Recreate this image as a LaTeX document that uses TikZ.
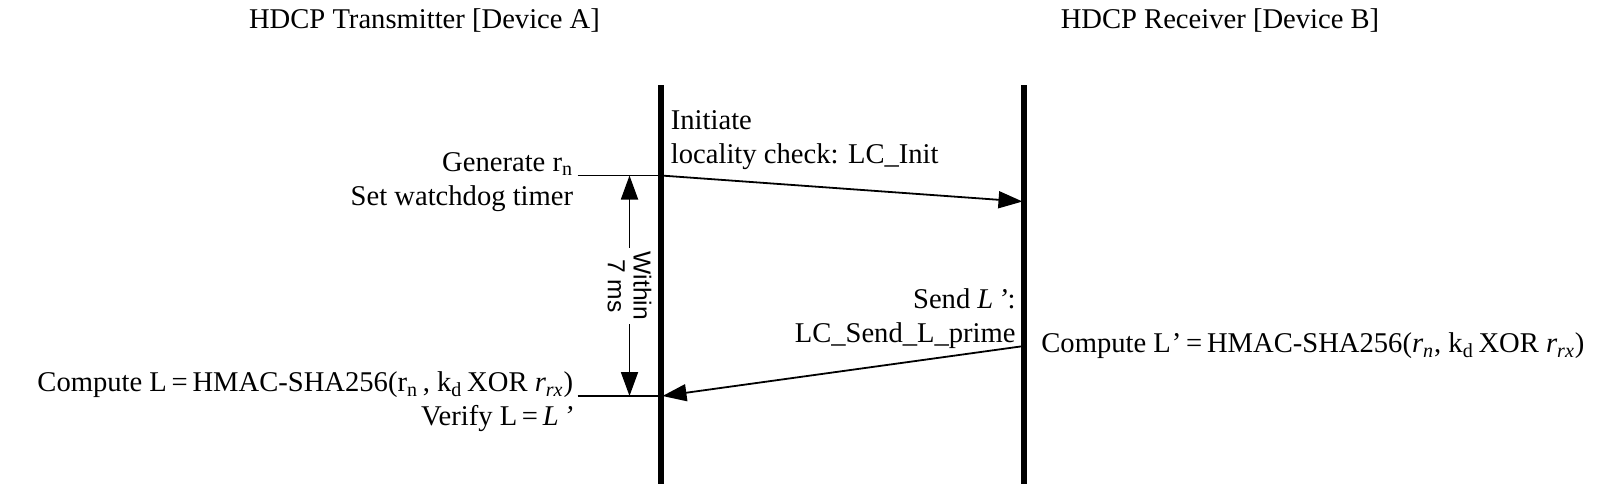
\documentclass[tikz,border=0pt]{standalone}
\usepackage{fontspec}
\setmainfont{Liberation Serif}
\setsansfont{Liberation Sans}
\usetikzlibrary{arrows.meta}
\begin{document}
\begin{tikzpicture}[x=0.5pt,y=-0.5pt,
  lifeline/.style={line width=3pt},
  msg/.style={line width=0.9pt,-{Triangle[length=12pt,width=8.5pt]}},
  tickline/.style={line width=0.9pt},
  timer/.style={line width=0.9pt,{Triangle[length=12pt,width=8.5pt]}-{Triangle[length=12pt,width=8.5pt]}},
  lbl/.style={inner sep=0pt, font=\fontsize{14.3}{16.9}\selectfont},
  sanslbl/.style={inner sep=2pt, fill=white, font=\sffamily\fontsize{12.3}{12.8}\selectfont, align=center}]
\useasboundingbox (0,0) rectangle (1600,484);
% titles
\node[lbl] (tA) at (424.5,20.4) {HDCP Transmitter [Device A]};
\node[lbl] (tB) at (1220,20.4) {HDCP Receiver [Device B]};
% lifelines
\coordinate (Atop) at (661,85);
\coordinate (Abot) at (661,484);
\coordinate (Btop) at (1024,85);
\coordinate (Bbot) at (1024,484);
\draw[lifeline] (Atop) -- (Abot);
\draw[lifeline] (Btop) -- (Bbot);
% message points
\coordinate (m1s) at (661,175.5);
\coordinate (m1e) at (1022.5,201.5);
\coordinate (m2s) at (1024,346);
\coordinate (m2e) at (662.5,396);
\coordinate (g1) at (577.5,175.5);
\coordinate (g2) at (577.5,396);
\coordinate (w1) at (629.5,175.5);
\coordinate (w2) at (629.5,396);
% ticks
\draw[tickline] (g1) -- (m1s);
\draw[tickline] (g2) -- (m2e);
% messages
\draw[msg] (m1s) -- (m1e);
\draw[msg] (m2s) -- (m2e);
% timer
\draw[timer] (w1) -- node[sanslbl, rotate=-90] (within) {Within\\7 ms} (w2);
% labels
\node[lbl, anchor=east, align=right] (gen) at (573.5,182) {Generate r\textsubscript{n}\\Set watchdog timer};
\node[lbl, anchor=west, align=left] (init) at (670.5,139.8) {Initiate\\locality check: LC\_Init};
\node[lbl, anchor=east, align=right] (send) at (1016,319) {Send \textit{L\,'}:\\LC\_Send\_L\_prime};
\node[lbl, anchor=west] (compB) at (1041,346) {Compute L\kern0.5pt'\,=\,HMAC-SHA256(\textit{r\textsubscript{n}}, k\textsubscript{d}\,XOR \textit{r\textsubscript{rx}})};
\node[lbl, anchor=east, align=right] (compA) at (573.5,402) {Compute L\,=\,HMAC-SHA256(r\textsubscript{n}\,, k\textsubscript{d}\,XOR \textit{r\textsubscript{rx}})\\Verify L\,=\,\textit{L\,'}};
\end{tikzpicture}
\end{document}
